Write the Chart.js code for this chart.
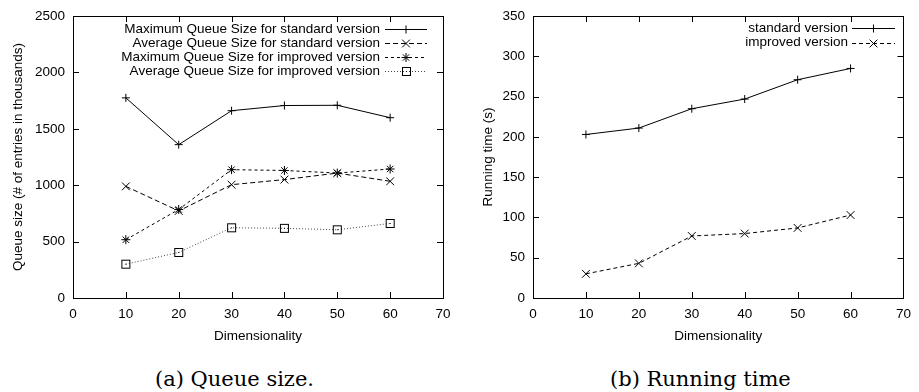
<!DOCTYPE html>
<html>
<head>
<meta charset="utf-8">
<script src="https://cdn.jsdelivr.net/npm/chart.js@4.4.1/dist/chart.umd.min.js"></script>
<style>
  body { margin: 0; background: #fff; width: 919px; height: 392px; position: relative; overflow: hidden; }
  canvas { position: absolute; top: 0; }
  #queueChart { left: 0; }
  #timeChart { left: 460px; }
  .caption {
    position: absolute; top: 369px; line-height: 21px; font-size: 21px;
    font-family: "DejaVu Serif", "Liberation Serif", serif; color: #000; white-space: nowrap;
  }
  #capA { left: 155px; }
  #capB { left: 610px; }
</style>
</head>
<body>
<canvas id="queueChart" width="460" height="350"></canvas>
<canvas id="timeChart" width="459" height="350"></canvas>
<div class="caption" id="capA">(a) Queue size.</div>
<div class="caption" id="capB">(b) Running time</div>

<script>
  // ------------------------------------------------------
  // data
  // ------------------------------------------------------
  const dims = [10, 20, 30, 40, 50, 60];

  const maxQueueStd = [1775, 1360, 1661, 1707, 1709, 1599];
  const avgQueueStd = [990, 772, 1005, 1050, 1108, 1035];
  const maxQueueImp = [517, 785, 1138, 1131, 1108, 1144];
  const avgQueueImp = [300, 404, 623, 618, 605, 661];

  const timeStd = [203, 211, 235, 247, 271, 285];
  const timeImp = [30, 43, 77, 80, 87, 103];

  const FONT = '"Liberation Sans", Arial, sans-serif';

  // gnuplot style open square with a dot in the middle
  const squareDot = document.createElement('canvas');
  squareDot.width = 11;
  squareDot.height = 11;
  (function () {
    const c = squareDot.getContext('2d');
    c.strokeStyle = '#000';
    c.lineWidth = 1;
    c.strokeRect(1.5, 1.5, 8, 8);
    c.fillStyle = '#000';
    c.fillRect(5, 5, 1, 1);
  }());

  const pts = (ys) => dims.map((x, i) => ({ x: x, y: ys[i] }));

  function series(label, ys, dash, style, radius, color) {
    return {
      label            : label,
      data             : pts(ys),
      showLine         : true,
      borderColor      : color || '#000',
      borderWidth      : 1,
      borderDash       : dash,
      pointStyle       : style,
      pointRadius      : radius,
      pointBorderColor : '#000',
      pointBorderWidth : 1,
      pointBackgroundColor: 'rgba(0,0,0,0)',
      fill             : false,
      tension          : 0,
    };
  }

  function drawMarker(ctx, style, r, x, y) {
    if (style instanceof HTMLCanvasElement) {
      ctx.drawImage(style, Math.round(x - style.width / 2), Math.round(y - style.height / 2));
      return;
    }
    ctx.beginPath();
    if (style === 'cross' || style === 'star') {
      ctx.moveTo(x - r, y); ctx.lineTo(x + r, y);
      ctx.moveTo(x, y - r); ctx.lineTo(x, y + r);
    }
    if (style === 'crossRot' || style === 'star') {
      const d = r * Math.SQRT1_2;
      ctx.moveTo(x - d, y - d); ctx.lineTo(x + d, y + d);
      ctx.moveTo(x - d, y + d); ctx.lineTo(x + d, y - d);
    }
    ctx.stroke();
  }

  // box round the plot, inward tick marks on all four sides, gnuplot legend
  const gnuplotFrame = {
    id: 'gnuplotFrame',
    afterDatasetsDraw(chart, args, opts) {
      const ctx = chart.ctx;
      const a = chart.chartArea;
      const xs = chart.scales.x;
      const ys = chart.scales.y;
      const tl = 6;
      ctx.save();
      ctx.strokeStyle = '#000';
      ctx.lineWidth = 1;
      ctx.setLineDash([]);
      ctx.strokeRect(Math.round(a.left) + 0.5, Math.round(a.top) + 0.5,
        Math.round(a.right - a.left), Math.round(a.bottom - a.top));
      ctx.beginPath();
      xs.ticks.forEach((t) => {
        const px = Math.round(xs.getPixelForValue(t.value)) + 0.5;
        ctx.moveTo(px, a.bottom); ctx.lineTo(px, a.bottom - tl);
        ctx.moveTo(px, a.top); ctx.lineTo(px, a.top + tl);
      });
      ys.ticks.forEach((t) => {
        const py = Math.round(ys.getPixelForValue(t.value)) + 0.5;
        ctx.moveTo(a.left, py); ctx.lineTo(a.left + tl, py);
        ctx.moveTo(a.right, py); ctx.lineTo(a.right - tl, py);
      });
      ctx.stroke();

      // legend
      ctx.font = '13.5px ' + FONT;
      ctx.fillStyle = '#000';
      ctx.textAlign = 'right';
      ctx.textBaseline = 'middle';
      chart.data.datasets.forEach((ds, i) => {
        const y = opts.y0 + i * opts.dy;
        ctx.fillText(ds.label, opts.textRight, y);
        ctx.strokeStyle = ds.borderColor;
        ctx.setLineDash(ds.borderDash || []);
        ctx.beginPath();
        ctx.moveTo(opts.x1, Math.round(y) + 0.5);
        ctx.lineTo(opts.x2, Math.round(y) + 0.5);
        ctx.stroke();
        ctx.setLineDash([]);
        ctx.strokeStyle = '#000';
        drawMarker(ctx, ds.pointStyle, ds.pointRadius, (opts.x1 + opts.x2) / 2, Math.round(y) + 0.5);
      });
      ctx.restore();
    },
  };

  function makeOptions(yMax, yStep, yTitle, yTitlePad, padTop, padRight, legend) {
    return {
      responsive: false,
      animation: false,
      layout: { padding: { top: padTop, right: padRight, left: 0, bottom: 0 } },
      plugins: {
        legend: { display: false },
        tooltip: { enabled: false },
        gnuplotFrame: legend,
      },
      scales: {
        x: {
          type: 'linear',
          min: 0,
          max: 70,
          grid: { display: false, drawTicks: false },
          border: { display: false },
          ticks: {
            stepSize: 10, padding: 8, color: '#000', font: { family: FONT, size: 13.5 },
            callback: (v) => String(v),
          },
          title: {
            display: true, text: 'Dimensionality', color: '#000',
            font: { family: FONT, size: 13.5 }, padding: { top: 0, bottom: 6 },
          },
          afterFit(scale) { scale.height = 52; },
        },
        y: {
          min: 0,
          max: yMax,
          grid: { display: false, drawTicks: false },
          border: { display: false },
          ticks: {
            stepSize: yStep, padding: 8, color: '#000', font: { family: FONT, size: 13.5 },
            callback: (v) => String(v),
          },
          title: {
            display: true, text: yTitle, color: '#000',
            font: { family: FONT, size: 13.5 }, padding: { top: yTitlePad, bottom: 0 },
          },
          afterFit(scale) { scale.width = 73; },
        },
      },
    };
  }

  // ------------------------------------------------------
  // @Queue size
  // ------------------------------------------------------
  new Chart(document.getElementById('queueChart').getContext('2d'), {
    type: 'scatter',
    data: {
      datasets: [
        series('Maximum Queue Size for standard version', maxQueueStd, [], 'cross', 4),
        series('Average Queue Size for standard version', avgQueueStd, [5, 3], 'crossRot', 5.5),
        series('Maximum Queue Size for improved version', maxQueueImp, [3, 3], 'star', 4.5),
        series('Average Queue Size for improved version', avgQueueImp, [1, 2], squareDot, 5, '#444'),
      ],
    },
    options: makeOptions(2500, 500, 'Queue size (# of entries in thousands)', 10, 14, 17,
      { textRight: 380, x1: 385, x2: 427, y0: 29, dy: 14 }),
    plugins: [gnuplotFrame],
  });

  // ------------------------------------------------------
  // @Running time
  // ------------------------------------------------------
  new Chart(document.getElementById('timeChart').getContext('2d'), {
    type: 'scatter',
    data: {
      datasets: [
        series('standard version', timeStd, [], 'cross', 4),
        series('improved version', timeImp, [4, 3], 'crossRot', 5.5),
      ],
    },
    options: makeOptions(350, 50, 'Running time (s)', 20, 15, 7,
      { textRight: 388, x1: 392, x2: 435, y0: 28, dy: 14.5 }),
    plugins: [gnuplotFrame],
  });
</script>
</body>
</html>
